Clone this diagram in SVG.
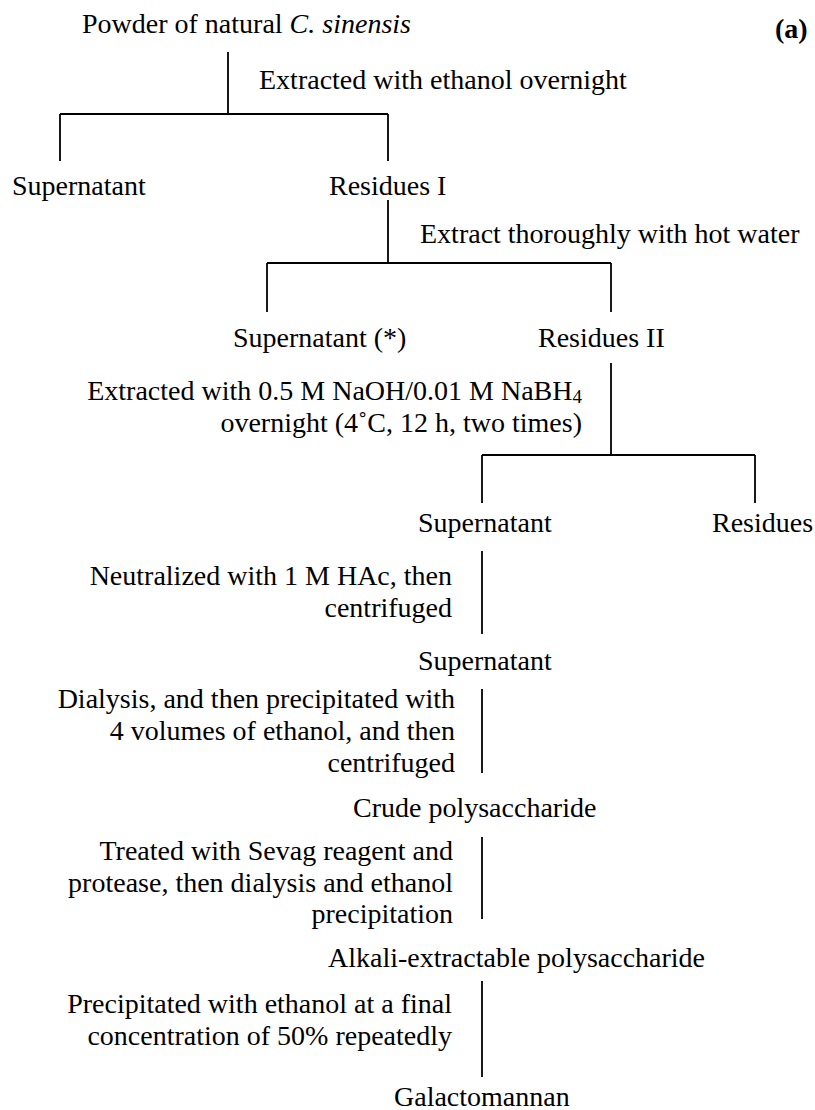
<svg xmlns="http://www.w3.org/2000/svg" width="815" height="1110" viewBox="0 0 815 1110">
<style>
text{font-family:"Liberation Serif","Times New Roman",serif;font-size:28px;fill:#000}
.e{text-anchor:end}
.b{font-weight:bold}
#connectors line{stroke:#000;stroke-width:1.8;fill:none}
</style>
<rect width="815" height="1110" fill="#fff"/>
<g id="connectors">
<line x1="228" y1="52" x2="228" y2="114"/>
<line x1="60" y1="114" x2="388" y2="114"/>
<line x1="60" y1="114" x2="60" y2="161"/>
<line x1="388" y1="114" x2="388" y2="161"/>
<line x1="388" y1="200" x2="388" y2="263"/>
<line x1="267" y1="263" x2="611" y2="263"/>
<line x1="267" y1="263" x2="267" y2="312"/>
<line x1="611" y1="263" x2="611" y2="312"/>
<line x1="611" y1="363" x2="611" y2="455"/>
<line x1="482" y1="455" x2="755" y2="455"/>
<line x1="482" y1="455" x2="482" y2="503"/>
<line x1="755" y1="455" x2="755" y2="503"/>
<line x1="482" y1="551" x2="482" y2="634"/>
<line x1="482" y1="689" x2="482" y2="773"/>
<line x1="482" y1="837" x2="482" y2="919"/>
<line x1="482" y1="981" x2="482" y2="1077"/>
</g>
<g id="label-a"><text class="b" x="775" y="38">(a)</text></g>
<g id="n-powder"><text x="82" y="33">Powder of natural <tspan font-style="italic">C. sinensis</tspan></text></g>
<g id="s-ethanol"><text x="259" y="89">Extracted with ethanol overnight</text></g>
<g id="n-supernatant1"><text x="12" y="195">Supernatant</text></g>
<g id="n-residues1"><text x="329" y="195">Residues I</text></g>
<g id="s-hotwater"><text x="420" y="243">Extract thoroughly with hot water</text></g>
<g id="n-supernatant-star"><text x="233" y="347">Supernatant (*)</text></g>
<g id="n-residues2"><text x="538" y="347">Residues II</text></g>
<g id="s-naoh">
<text class="e" x="582" y="400">Extracted with 0.5 M NaOH/0.01 M NaBH<tspan font-size="19" dy="3">4</tspan></text>
<text class="e" x="582" y="432">overnight (4˚C, 12 h, two times)</text>
</g>
<g id="n-supernatant2"><text x="418" y="532">Supernatant</text></g>
<g id="n-residues3"><text x="712" y="532">Residues</text></g>
<g id="s-hac">
<text class="e" x="452" y="585">Neutralized with 1 M HAc, then</text>
<text class="e" x="452" y="617">centrifuged</text>
</g>
<g id="n-supernatant3"><text x="418" y="670">Supernatant</text></g>
<g id="s-dialysis">
<text class="e" x="455" y="708">Dialysis, and then precipitated with</text>
<text class="e" x="455" y="740">4 volumes of ethanol, and then</text>
<text class="e" x="455" y="772">centrifuged</text>
</g>
<g id="n-crude"><text x="353" y="817">Crude polysaccharide</text></g>
<g id="s-sevag">
<text class="e" x="453" y="860">Treated with Sevag reagent and</text>
<text class="e" x="453" y="892">protease, then dialysis and ethanol</text>
<text class="e" x="453" y="923">precipitation</text>
</g>
<g id="n-alkali"><text x="328" y="967">Alkali-extractable polysaccharide</text></g>
<g id="s-final">
<text class="e" x="452" y="1013">Precipitated with ethanol at a final</text>
<text class="e" x="452" y="1045">concentration of 50% repeatedly</text>
</g>
<g id="n-galacto"><text x="394" y="1106">Galactomannan</text></g>
</svg>
